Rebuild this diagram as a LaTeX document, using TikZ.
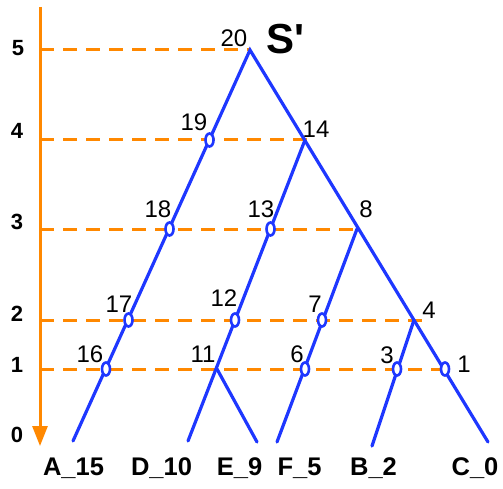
\documentclass[tikz,border=0pt]{standalone}
\usepackage{fontspec}
\setmainfont{Liberation Sans}
\newfontfamily\sqfont{Liberation Sans}
\usetikzlibrary{arrows.meta,shapes.geometric}
\definecolor{treeblue}{RGB}{30,55,255}
\definecolor{axorange}{RGB}{255,136,0}
\begin{document}
\begin{tikzpicture}[x=1pt,y=-1pt,
  branch/.style={treeblue,line width=3.2pt,line cap=round,line join=miter},
  level/.style={axorange,line width=3pt,dash pattern=on 14pt off 9pt},
  ring/.style={ellipse,draw=treeblue,fill=white,line width=2.6pt,minimum width=8pt,minimum height=13pt,inner sep=0pt},
  num/.style={font=\fontsize{24}{27}\selectfont,inner sep=0pt},
  axnum/.style={font=\fontsize{22}{25}\selectfont\bfseries,inner sep=0pt},
  leaf/.style={font=\fontsize{25.5}{29}\selectfont\bfseries,inner sep=0pt}]
\useasboundingbox (0,0) rectangle (503,489);
% axis
\coordinate (axtop) at (40,7);
\coordinate (axbot) at (40,446);
\draw[axorange,line width=3pt,-{Triangle[length=20pt,width=15pt]}] (axtop) -- (axbot);
\coordinate (l5) at (40,50);
\coordinate (l4) at (40,140);
\coordinate (l3) at (40,229);
\coordinate (l2) at (40,320);
\coordinate (l1) at (40,369);
% tree coordinates
\coordinate (n20) at (250,50);
\coordinate (n14) at (305,140);
\coordinate (n8) at (357,229);
\coordinate (n4) at (414,320);
\coordinate (n11) at (217,369);
\coordinate (A) at (73,441);
\coordinate (D) at (188,441);
\coordinate (E) at (257,442);
\coordinate (F) at (277,442);
\coordinate (B) at (372,446);
\coordinate (C) at (488,442);
\coordinate (e4) at (313,140);
\coordinate (e2) at (424,320);
\coordinate (e1) at (445,369);
% dashed levels
\draw[level] (l5) -- (n20);
\draw[level] (l4) -- (e4);
\draw[level] (l3) -- (n8);
\draw[level] (l2) -- (e2);
\draw[level] (l1) -- (e1);
% branches
\draw[branch] (A) -- (n20) -- (C);
\draw[branch] (n14) -- (D);
\draw[branch] (n11) -- (E);
\draw[branch] (n8) -- (F);
\draw[branch] (n4) -- (B);
% rings
\node[ring] (n19) at (209.5,140) {};
\node[ring] (n18) at (169.5,229) {};
\node[ring] (n17) at (128.5,320) {};
\node[ring] (n16) at (106,369) {};
\node[ring] (n13) at (270.5,229) {};
\node[ring] (n12) at (235,320) {};
\node[ring] (n7) at (322,320) {};
\node[ring] (n6) at (305,369) {};
\node[ring] (n3) at (397,369) {};
\node[ring] (n1) at (445,369) {};
% numbers
\node[num] (t20) at (234,38) {20};
\node[num] (t19) at (194,122) {19};
\node[num] (t14) at (316,129) {14};
\node[num] (t18) at (158,209) {18};
\node[num] (t13) at (261,209) {13};
\node[num] (t8) at (366,209) {8};
\node[num] (t17) at (119,304) {17};
\node[num] (t12) at (224,298) {12};
\node[num] (t7) at (315,304) {7};
\node[num] (t4) at (429,310) {4};
\node[num] (t16) at (90,354) {16};
\node[num] (t11) at (203,354) {11};
\node[num] (t6) at (297,354) {6};
\node[num] (t3) at (387,355) {3};
\node[num] (t1) at (464,364) {1};
\node[font=\sqfont\fontsize{42}{46}\selectfont\bfseries,inner sep=0pt] (sp) at (285,39) {S'};
% axis numbers
\node[axnum] (a5) at (18,48) {5};
\node[axnum] (a4) at (17,131) {4};
\node[axnum] (a3) at (17,222) {3};
\node[axnum] (a2) at (17,314) {2};
\node[axnum] (a1) at (17,365) {1};
\node[axnum] (a0) at (17,435) {0};
% leaves
\node[leaf] (tA) at (73.5,468) {A\_15};
\node[leaf] (tD) at (161.5,468) {D\_10};
\node[leaf] (tE) at (239.5,468) {E\_9};
\node[leaf] (tF) at (299.5,468) {F\_5};
\node[leaf] (tB) at (373.5,468) {B\_2};
\node[leaf] (tC) at (475,468) {C\_0};
\end{tikzpicture}
\end{document}
